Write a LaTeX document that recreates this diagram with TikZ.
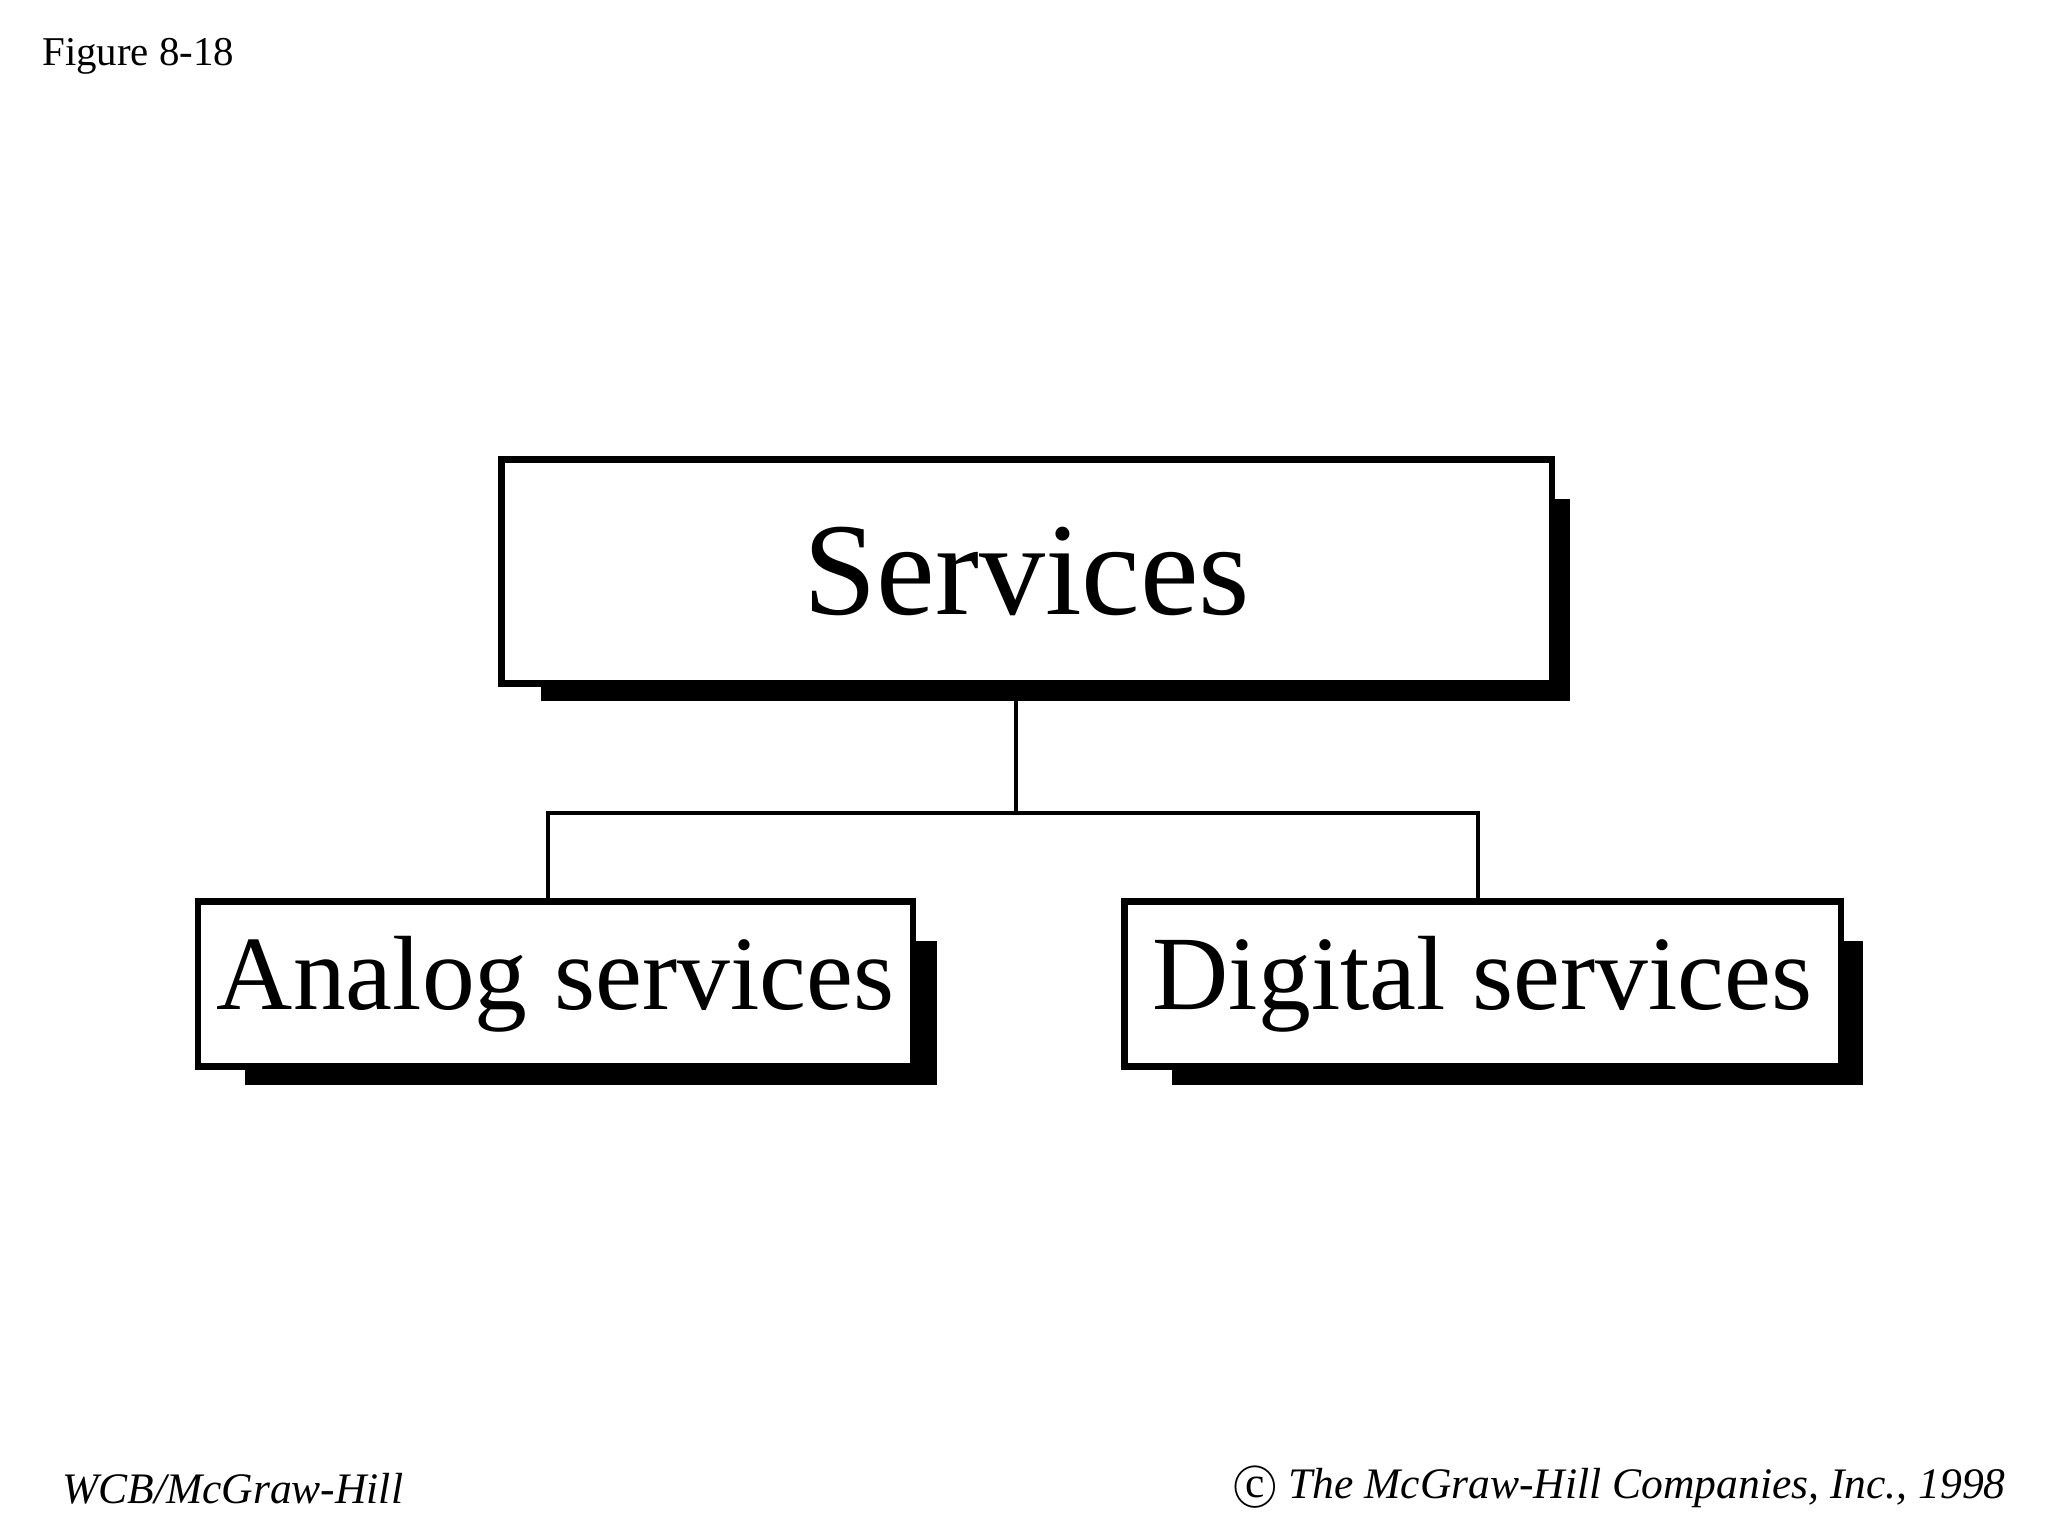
\documentclass[tikz,border=0pt]{standalone}
\usepackage{fontspec}
\setmainfont{Liberation Serif}
\begin{document}
\begin{tikzpicture}[x=0.5pt,y=-0.5pt,
  box/.style={draw,line width=2.5pt,fill=white,inner sep=0pt},
  shadow/.style={fill=black},
  conn/.style={line width=1.5pt}]
\useasboundingbox (0,0) rectangle (1552,1164);
% shadows
\fill[shadow] (410,378) rectangle (1190,531);
\fill[shadow] (186,713) rectangle (710,822);
\fill[shadow] (888,713) rectangle (1412,822);
\node[box,minimum width=398pt,minimum height=85pt,font=\fontsize{50}{54}\selectfont] (s) at (778,433) {Services};
\node[box,minimum width=271pt,minimum height=62.5pt,font=\fontsize{40}{44}\selectfont] (a) at (421,745.5) {Analog services};
\node[box,minimum width=271.5pt,minimum height=62.5pt,font=\fontsize{40}{44}\selectfont] (d) at (1123.5,745.5) {Digital services};
\coordinate (j) at (770,616);
\draw[conn] (s.south -| j) -- (j);
\draw[conn] (a.north -| 415,0) |- (j) -| (d.north -| 1120,0);
\node[anchor=west,font=\fontsize{15.5}{18}\selectfont] (f) at (25,43) {Figure 8-18};
\node[anchor=west,font=\fontsize{16.5}{20}\itshape] (w) at (40,1128) {WCB/McGraw-Hill};
\node[anchor=east,font=\fontsize{16.5}{20}\itshape] (c) at (1527,1128) {\textcircled{\upshape c}\hspace{4pt}The McGraw-Hill Companies, Inc., 1998};
\end{tikzpicture}
\end{document}
